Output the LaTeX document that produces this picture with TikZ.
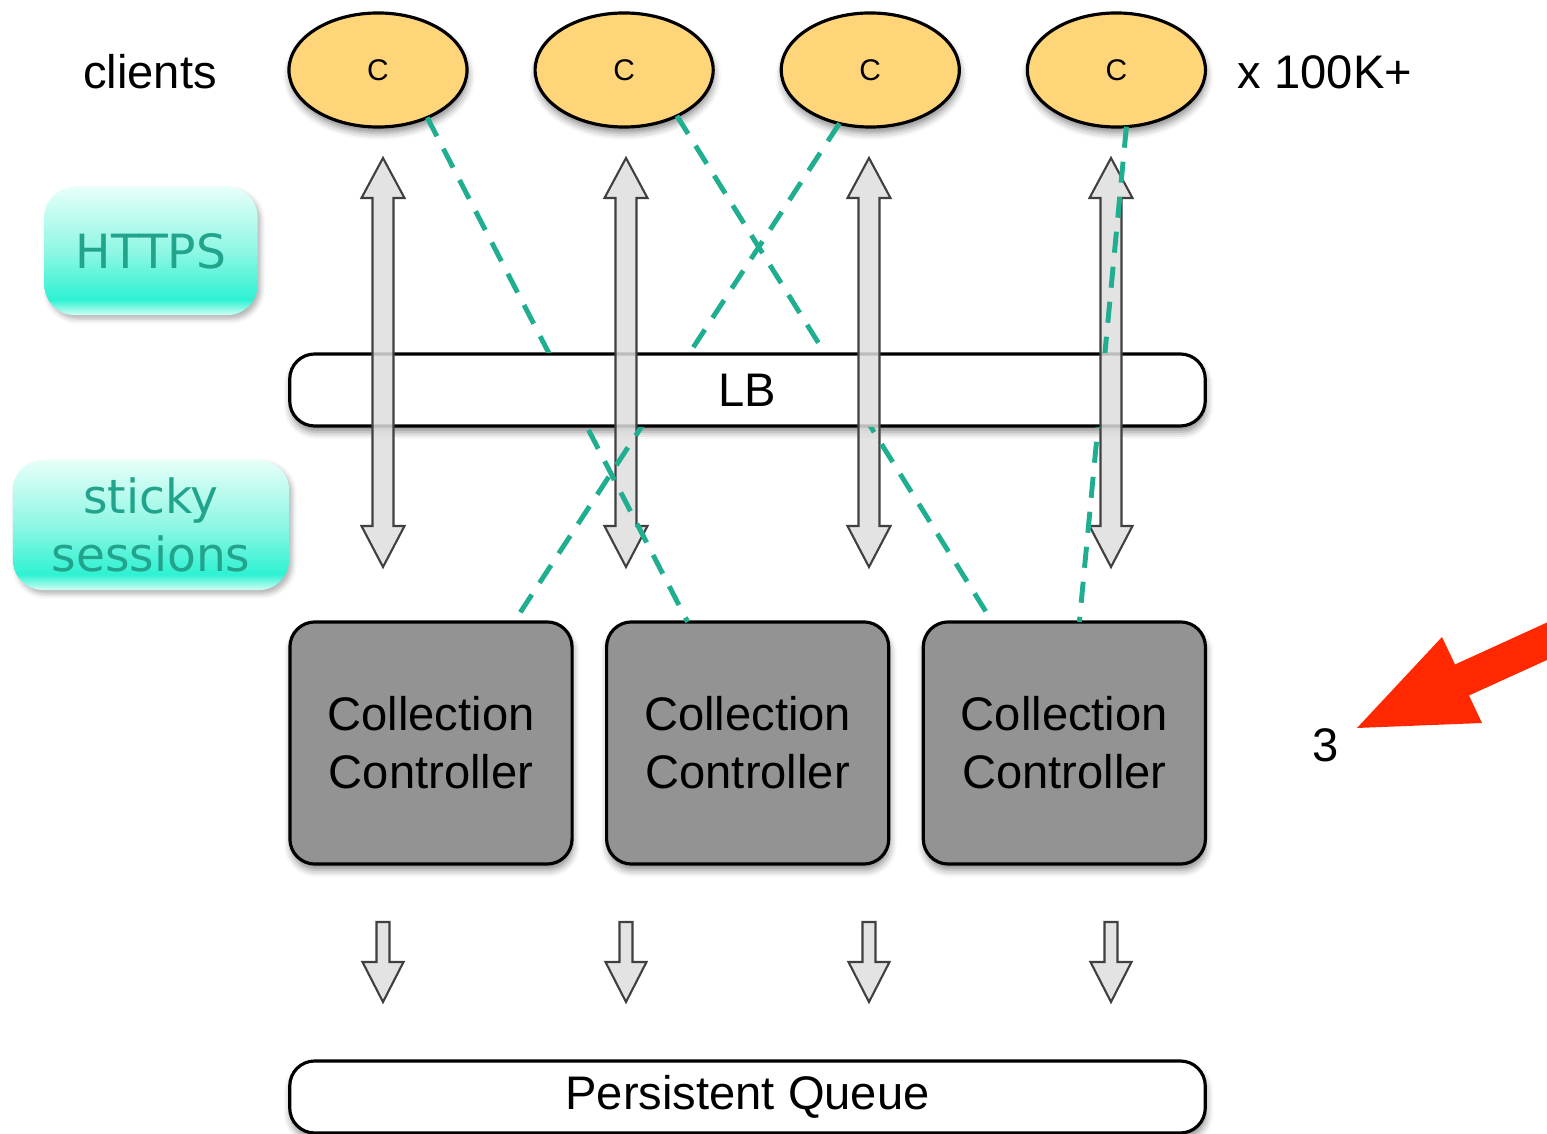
\documentclass[tikz,border=0pt]{standalone}
\usepackage{fontspec}
\setmainfont{Liberation Sans}
\newfontfamily\tagfont{DejaVu Sans}
\usetikzlibrary{shapes.geometric, positioning, shadows.blur}
\definecolor{clientfill}{HTML}{FFD57A}
\definecolor{ccfill}{HTML}{939393}
\definecolor{pipefill}{HTML}{DEDEDE}
\definecolor{pipeline}{HTML}{404040}
\definecolor{tagtext}{HTML}{22A38C}
\definecolor{tagtop}{HTML}{E6FFF9}
\definecolor{tagmid}{HTML}{8FF7E4}
\definecolor{tagstrong}{HTML}{2EF2D3}
\definecolor{tagbot}{HTML}{D2FDF3}
\definecolor{linkcol}{HTML}{1FAE90}
\definecolor{markred}{HTML}{FF2800}
\pgfdeclareverticalshading{tagglass}{100bp}{color(0bp)=(tagbot); color(25bp)=(tagbot); color(31bp)=(tagstrong); color(50bp)=(tagmid); color(75bp)=(tagtop); color(100bp)=(tagtop)}
\tikzset{
    client/.style={ellipse, draw, line width=0.9pt, fill=clientfill, minimum width=1.78cm, minimum height=1.14cm, outer sep=0pt, font=\fontsize{8.5}{10}\selectfont, blur shadow={shadow xshift=0.01cm, shadow yshift=-0.06cm, shadow blur radius=0.07cm, shadow opacity=45}},
    bar/.style={draw, rectangle, rounded corners=0.25cm, line width=0.9pt, fill=white, minimum width=9.15cm, minimum height=0.72cm, outer sep=0pt, font=\fontsize{13.4}{16}\selectfont, blur shadow={shadow xshift=0.01cm, shadow yshift=-0.06cm, shadow blur radius=0.07cm, shadow opacity=45}},
    controller/.style={draw, rectangle, rounded corners=0.25cm, line width=0.9pt, fill=ccfill, minimum width=2.82cm, minimum height=2.42cm, outer sep=0pt, align=center, font=\fontsize{13.4}{16.5}\selectfont, blur shadow={shadow xshift=0.01cm, shadow yshift=-0.06cm, shadow blur radius=0.07cm, shadow opacity=45}},
    tag/.style={rectangle, rounded corners=0.3cm, shading=tagglass, align=center, text=tagtext, outer sep=0pt, font=\tagfont\fontsize{13.4}{16.5}\selectfont, blur shadow={shadow xshift=0.03cm, shadow yshift=-0.04cm, shadow blur radius=0.05cm, shadow opacity=30}},
    plain/.style={font=\fontsize{13.4}{16}\selectfont},
    duplex/.style={draw=pipeline, fill=pipefill, fill opacity=0.85, line width=0.6pt, line join=miter},
    link/.style={draw=linkcol, line width=1.4pt, dash pattern=on 6pt off 4pt}
}
\begin{document}
\begin{tikzpicture}[x=0.01cm, y=-0.01cm, node distance=0.68cm and 0.68cm]
    \useasboundingbox (0,0) rectangle (1547,1134);

    % clients
    \node (c1) [client] at (378,70) {C};
    \node (c2) [client, right=of c1] {C};
    \node (c3) [client, right=of c2] {C};
    \node (c4) [client, right=of c3] {C};
    \node (clients) [plain] at (150,72) {clients};
    \node (many) [plain] at (1325,72) {x 100K+};

    % side labels
    \node (https) [tag, minimum width=2.13cm, minimum height=1.28cm] at (151,251) {HTTPS};
    \node (sticky) [tag, minimum width=2.76cm, minimum height=1.30cm] at (151,525) {sticky\\sessions};

    % load balancer and controllers
    \node (lb) [bar] at (747.5,390) {LB};
    \node (cc1) [controller] at (431,743) {Collection\\Controller};
    \node (cc2) [controller, right=0.345cm of cc1] {Collection\\Controller};
    \node (cc3) [controller, right=0.345cm of cc2] {Collection\\Controller};
    \node (queue) [bar] at (747.5,1097) {Persistent Queue};

    % request paths
    \foreach \ax in {383,626,869,1111} {
        \draw [duplex] (\ax-10.5,198) -- (\ax-21.5,198) -- (\ax,158) -- (\ax+21.5,198) -- (\ax+10.5,198)
            -- (\ax+10.5,526) -- (\ax+21.5,526) -- (\ax,567) -- (\ax-21.5,526) -- (\ax-10.5,526) -- cycle;
        \draw [duplex] (\ax-6.5,922) -- (\ax+6.5,922) -- (\ax+6.5,962) -- (\ax+20.5,962) -- (\ax,1002)
            -- (\ax-20.5,962) -- (\ax-6.5,962) -- cycle;
    }

    % sticky links (hidden behind LB)
    \begin{scope}
        \clip (0,0) rectangle (1547,353) (0,427) rectangle (1547,1134);
        \draw [link] (c1.-44) -- ([xshift=0.81cm]cc2.north west);
        \draw [link] (c2.-41) -- ([xshift=0.69cm]cc3.north west);
        \draw [link] (c3.-120) -- ([xshift=2.24cm]cc1.north west);
        \draw [link] (c4.-80) -- ([xshift=1.56cm]cc3.north west);
    \end{scope}

    % marker
    \node (three) [plain] at (1326,745) {3};
    \fill [markred] (1357,728) -- (1442,637) -- (1455,664.5) -- (1547,622.5) -- (1547,660)
        -- (1469,695.5) -- (1482,723) -- cycle;

\end{tikzpicture}
\end{document}
